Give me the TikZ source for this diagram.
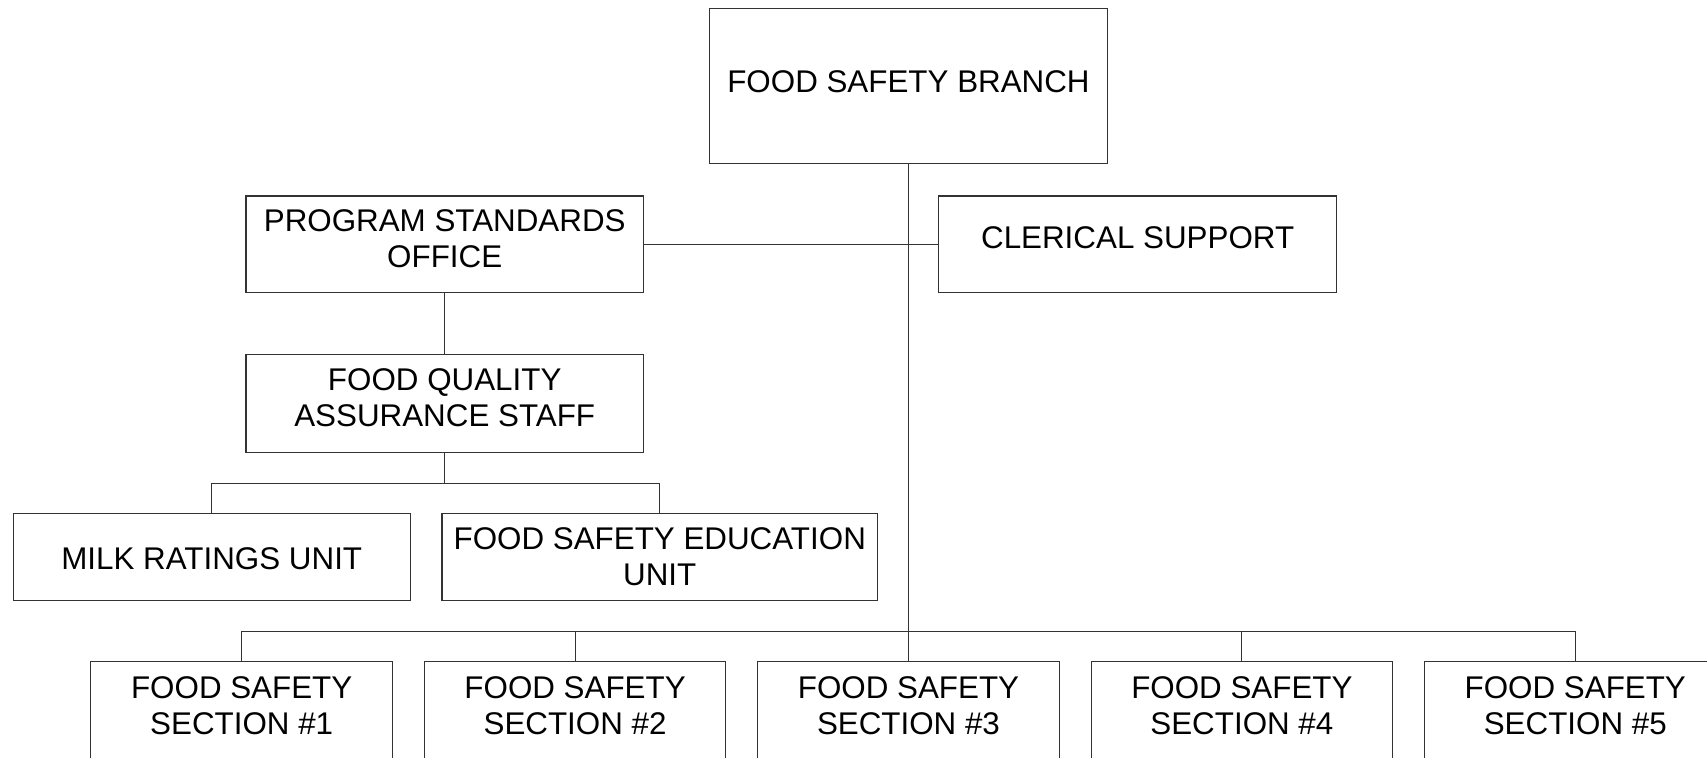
\documentclass[tikz,border=0pt]{standalone}
\usepackage{fontspec}
\setmainfont{Liberation Sans}
\begin{document}
\begin{tikzpicture}[x=1pt,y=-1pt,
  box/.style={draw=black!80,line width=1pt,fill=white,rectangle,inner sep=0pt,minimum height=#1},
  box/.default=90pt,
  lbl/.style={align=center,inner sep=0pt,font=\fontsize{28.8}{33}\selectfont},
  conn/.style={draw=black!80,line width=0.9pt}]
\useasboundingbox (0,0) rectangle (1568,696);
\clip (0,0) rectangle (1568,696);
% boxes
\node[box=142pt,minimum width=365pt] (top) at (834.5,79) {};
\node[lbl] (topt) at (834.5,75) {FOOD SAFETY BRANCH};
\node[box=89pt,minimum width=365pt] (pso) at (408.5,224.5) {};
\node[lbl] (psot) at (408.5,219.5) {PROGRAM STANDARDS\\OFFICE};
\node[box=89pt,minimum width=366pt] (cler) at (1045,224.5) {};
\node[lbl] (clert) at (1045,218) {CLERICAL SUPPORT};
\node[box=90pt,minimum width=365pt] (fqa) at (408.5,371) {};
\node[lbl] (fqat) at (408.5,365) {FOOD QUALITY\\ASSURANCE STAFF};
\node[box=80pt,minimum width=365pt] (milk) at (194.5,512) {};
\node[lbl] (milkt) at (194.5,513) {MILK RATINGS UNIT};
\node[box=80pt,minimum width=400pt] (edu) at (606,512) {};
\node[lbl] (edut) at (606,511.5) {FOOD SAFETY EDUCATION\\UNIT};
\foreach \i/\x in {1/222,2/528.25,3/834.5,4/1140.75,5/1447}{
  \node[box=90pt,minimum width=277pt] (s\i) at (\x,653) {};
  \node[lbl] (s\i t) at (\x,648.5) {FOOD SAFETY\\SECTION \#\i};
}
% connectors
\coordinate (busL) at (222,580);
\coordinate (busR) at (1447,580);
\coordinate (bus3) at (834.5,580);
\coordinate (jf) at (408.5,444);
\coordinate (jm) at (194.5,444);
\coordinate (je) at (606,444);
\draw[conn] (top.south) -- (bus3);
\draw[conn] (pso.east) -- (cler.west);
\draw[conn] (pso.south) -- (fqa.north);
\draw[conn] (fqa.south) -- (jf);
\draw[conn] (jm) -- (je);
\draw[conn] (jm) -- (milk.north);
\draw[conn] (je) -- (edu.north);
\draw[conn] (busL) -- (busR);
\foreach \i in {1,...,5}{
  \draw[conn] (s\i.north |- busL) -- (s\i.north);
}
\end{tikzpicture}
\end{document}
